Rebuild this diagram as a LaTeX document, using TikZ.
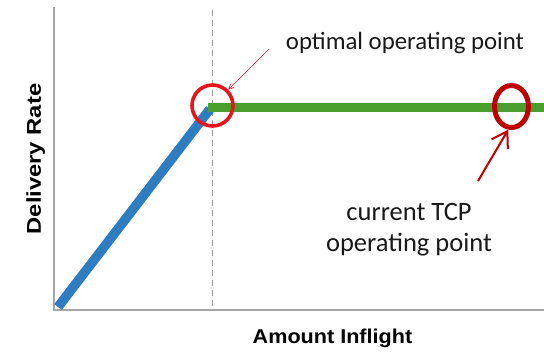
\documentclass[tikz,border=0pt]{standalone}
\usepackage{fontspec}
\usepackage{graphicx}
\setmainfont{Carlito}
\newfontfamily\axisfont{Liberation Sans}
\usetikzlibrary{arrows.meta,shapes.geometric}
\definecolor{lineblue}{HTML}{2E7DC0}
\definecolor{linegreen}{HTML}{4A9E2E}
\definecolor{brightred}{HTML}{E8141C}
\definecolor{darkred}{HTML}{C00000}
\definecolor{axisgray}{HTML}{A6A6A6}
\tikzset{
  axisline/.style={draw=axisgray, line width=2pt},
  guide/.style={draw=gray!80, line width=1pt, dash pattern=on 6pt off 4pt},
  axislabel/.style={font=\axisfont\bfseries\fontsize{20}{22}\selectfont, text=black, inner sep=0pt},
  note/.style={font=\fontsize{24.8}{28}\selectfont, text=black!90, inner sep=0pt},
  bignote/.style={font=\fontsize{26.5}{30}\selectfont, text=black!90, inner sep=0pt},
}
\begin{document}
\begin{tikzpicture}[x=1pt,y=-1pt]
\useasboundingbox (0,0) rectangle (544,353);
% axes
\coordinate (orig) at (54,310);
\coordinate (ytop) at (54,7);
\coordinate (xend) at (544,310);
\draw[axisline] (ytop) -- (orig) -- (xend);
% dashed guide
\coordinate (gtop) at (212,10);
\coordinate (gbot) at (212,306);
\draw[guide] (gtop) -- (gbot);
% curves
\coordinate (start) at (58,307);
\coordinate (knee) at (210,109);
\coordinate (kneeg) at (208,107.5);
\coordinate (gend) at (544,107.5);
\draw[lineblue, line width=9.5pt] (start) -- (knee);
\draw[linegreen, line width=8.5pt] (kneeg) -- (gend);
% circles
\node[draw=brightred, line width=3.6pt, circle, minimum size=41pt, inner sep=0pt] (opt) at (212.5,105.5) {};
\node[draw=darkred, line width=5pt, ellipse, minimum width=34pt, minimum height=42pt, inner sep=0pt] (cur) at (511.5,106.5) {};
% labels
\node[note, anchor=base] (optlbl) at (405,50) {optimal operating point};
\node[bignote, anchor=base] (curlbl1) at (409,220) {current TCP};
\node[bignote, anchor=base] (curlbl2) at (409,251) {operating point};
\coordinate (optarrowtail) at (269,49);
\coordinate (curarrowtail) at (478,181);
\draw[brightred, line width=0.7pt, -{Straight Barb[length=5pt,width=5pt]}] (optarrowtail) -- (opt.45);
\draw[darkred, line width=2pt, -{Straight Barb[length=15pt,width=19pt]}] (curarrowtail) -- (cur.262);
% axis titles
\node[axislabel, anchor=base] (xlbl) at (332.5,343) {\scalebox{1.08}[1]{Amount Inflight}};
\node[axislabel, rotate=90, anchor=base] (ylbl) at (41,159) {\scalebox{1.19}[1]{Delivery Rate}};
\end{tikzpicture}
\end{document}
